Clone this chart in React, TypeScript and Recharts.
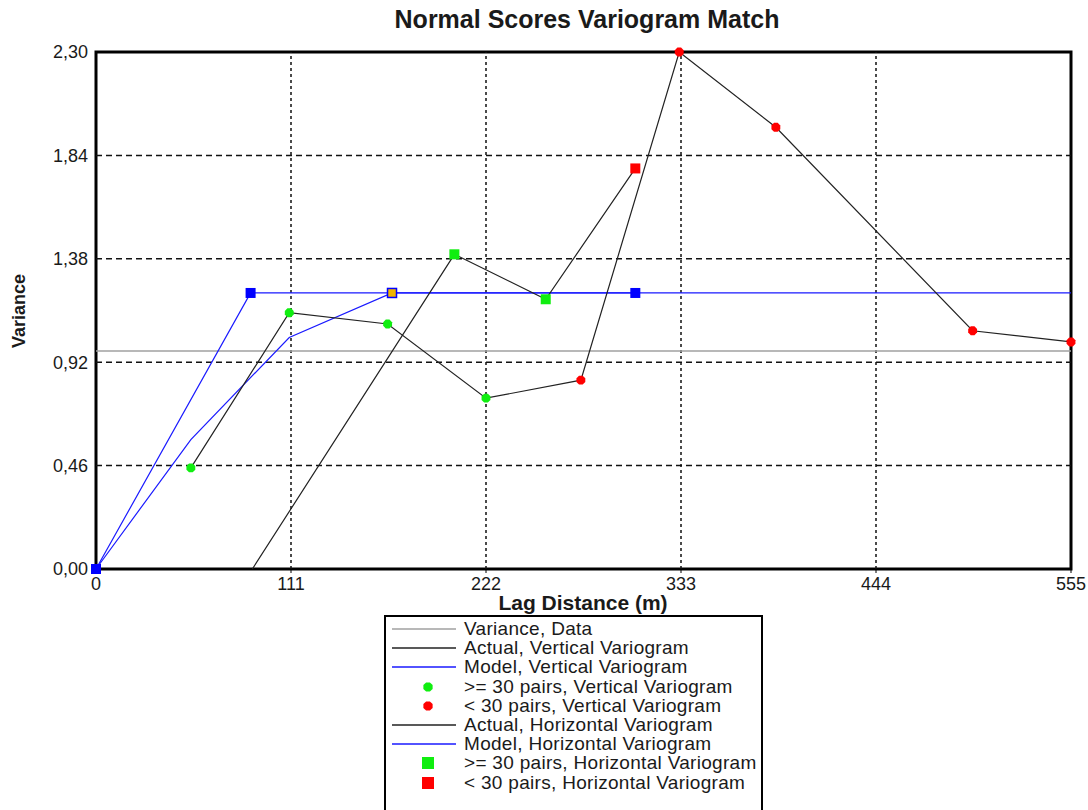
import { ComposedChart, Line, XAxis, YAxis, ReferenceLine, ReferenceArea } from "recharts";

// axis ticks
const lagTicks = [0, 111, 222, 333, 444, 555];
const varianceTicks = [0, 0.46, 0.92, 1.38, 1.84, 2.3];

// sill of the data
const dataVariance = 0.97;

// vertical variogram (experimental)
const vertLag = [54, 110, 166, 222, 276, 332, 387, 499, 555];
const vertGamma = [0.45, 1.14, 1.09, 0.76, 0.84, 2.3, 1.965, 1.06, 1.01];
const vertManyPairs = [true, true, true, true, false, false, false, false, false];

// vertical model
const vertModelLag = [0, 54, 110, 168.5, 555];
const vertModelGamma = [0, 0.576, 1.03, 1.228, 1.228];

// horizontal variogram (experimental)
const horzLag = [89, 204, 256, 307];
const horzGamma = [0, 1.4, 1.2, 1.782];
const horzMarker = ["none", "many", "many", "few"];

// horizontal model
const horzModelLag = [0, 88, 307];
const horzModelGamma = [0, 1.228, 1.228];

const zip = (xs: number[], ys: number[]) => xs.map((x, i) => ({ x, y: ys[i] }));

const vertData = zip(vertLag, vertGamma);
const vertModelData = zip(vertModelLag, vertModelGamma);
const horzData = zip(horzLag, horzGamma);
const horzModelData = zip(horzModelLag, horzModelGamma);
const varianceData = [
  { x: lagTicks[0], y: dataVariance },
  { x: lagTicks[lagTicks.length - 1], y: dataVariance },
];

const GREEN = "#10ee10";
const RED = "#ff0000";
const BLUE = "#1a1aff";
const FONT = "'Liberation Sans', Arial, sans-serif";

const Octagon = ({ cx, cy, r, fill }: any) => {
  const pts = [];
  for (let i = 0; i < 8; i++) {
    const a = (Math.PI / 8) * (2 * i + 1);
    pts.push(`${cx + r * Math.cos(a)},${cy + r * Math.sin(a)}`);
  }
  return <polygon points={pts.join(" ")} fill={fill} />;
};

const vertDot = (p: any) => (
  <g key={`vd-${p.index}`}>
    <Octagon cx={p.cx} cy={p.cy} r={4.8} fill={vertManyPairs[p.index] ? GREEN : RED} />
  </g>
);

const horzDot = (p: any) => {
  const m = horzMarker[p.index];
  if (m === "none") return <g key={`hd-${p.index}`} />;
  return (
    <rect
      key={`hd-${p.index}`}
      x={p.cx - 5}
      y={p.cy - 5}
      width={10}
      height={10}
      fill={m === "many" ? GREEN : RED}
    />
  );
};

const horzModelDot = (p: any) => (
  <rect key={`hm-${p.index}`} x={p.cx - 5} y={p.cy - 5} width={10} height={10} fill="#0000ff" />
);

const vertModelDot = (p: any) => {
  if (p.index !== 3) return <g key={`vm-${p.index}`} />;
  return (
    <rect
      key={`vm-${p.index}`}
      x={p.cx - 4.5}
      y={p.cy - 4.5}
      width={9}
      height={9}
      fill="#f0b400"
      stroke="#0000ff"
      strokeWidth={1.5}
    />
  );
};

const fmt = (v: number) => v.toFixed(2).replace(".", ",");

const legendItems = [
  { kind: "line", color: "#a0a0a0", label: "Variance, Data" },
  { kind: "line", color: "#222", label: "Actual, Vertical Variogram" },
  { kind: "line", color: BLUE, label: "Model, Vertical Variogram" },
  { kind: "dot", color: GREEN, label: ">= 30 pairs, Vertical Variogram" },
  { kind: "dot", color: RED, label: "< 30 pairs, Vertical Variogram" },
  { kind: "line", color: "#222", label: "Actual, Horizontal Variogram" },
  { kind: "line", color: BLUE, label: "Model, Horizontal Variogram" },
  { kind: "square", color: GREEN, label: ">= 30 pairs, Horizontal Variogram" },
  { kind: "square", color: RED, label: "< 30 pairs, Horizontal Variogram" },
];

const App = () => {
  return (
    <div
      style={{
        position: "absolute",
        left: 0,
        top: 0,
        width: 1088,
        height: 810,
        overflow: "hidden",
        background: "#fff",
        fontFamily: FONT,
        color: "#1a1a1a",
      }}
    >
      <div
        style={{
          position: "absolute",
          left: 287,
          width: 600,
          top: 5,
          textAlign: "center",
          fontSize: 25,
          fontWeight: "bold",
          lineHeight: "28px",
        }}
      >
        Normal Scores Variogram Match
      </div>
      <div
        style={{
          position: "absolute",
          left: 19 - 60,
          top: 311 - 10,
          width: 120,
          textAlign: "center",
          fontSize: 18,
          fontWeight: "bold",
          lineHeight: "20px",
          transform: "rotate(-90deg)",
        }}
      >
        Variance
      </div>
      <div
        style={{
          position: "absolute",
          left: 383,
          width: 400,
          top: 591,
          textAlign: "center",
          fontSize: 21,
          fontWeight: "bold",
          lineHeight: "24px",
        }}
      >
        Lag Distance (m)
      </div>

      <ComposedChart
        width={1088}
        height={810}
        margin={{ top: 52, right: 17, bottom: 211, left: 36 }}
        style={{ position: "absolute", left: 0, top: 0 }}
      >
        <XAxis
          dataKey="x"
          type="number"
          domain={[0, 555]}
          ticks={lagTicks}
          height={30}
          axisLine={false}
          tickLine={{ stroke: "#000" }}
          tickSize={4}
          tickMargin={4}
          tick={{ fontSize: 18, fill: "#1a1a1a", fontFamily: FONT }}
          interval={0}
        />
        <YAxis
          type="number"
          domain={[0, 2.3]}
          ticks={varianceTicks}
          width={60}
          axisLine={false}
          tickLine={false}
          tickSize={4}
          tickMargin={4}
          tickFormatter={fmt}
          tick={{ fontSize: 18, fill: "#1a1a1a", fontFamily: FONT }}
          interval={0}
        />
        {varianceTicks.slice(1, -1).map((v) => (
          <ReferenceLine key={`h${v}`} y={v} stroke="#111" strokeWidth={1.5} strokeDasharray="6 4" />
        ))}
        {lagTicks.slice(1, -1).map((v) => (
          <ReferenceLine key={`v${v}`} x={v} stroke="#111" strokeWidth={1.5} strokeDasharray="3 3" />
        ))}
        <ReferenceArea
          x1={0}
          x2={555}
          y1={0}
          y2={2.3}
          fill="none"
          fillOpacity={0}
          stroke="#000"
          strokeWidth={3}
        />
        <Line
          data={varianceData}
          dataKey="y"
          type="linear"
          stroke="#a0a0a0"
          strokeWidth={1.5}
          dot={false}
          isAnimationActive={false}
        />
        <Line
          data={vertModelData}
          dataKey="y"
          type="linear"
          stroke={BLUE}
          strokeWidth={1.2}
          dot={vertModelDot}
          isAnimationActive={false}
        />
        <Line
          data={horzModelData}
          dataKey="y"
          type="linear"
          stroke={BLUE}
          strokeWidth={1.2}
          dot={horzModelDot}
          isAnimationActive={false}
        />
        <Line
          data={horzData}
          dataKey="y"
          type="linear"
          stroke="#222"
          strokeWidth={1.2}
          dot={horzDot}
          isAnimationActive={false}
        />
        <Line
          data={vertData}
          dataKey="y"
          type="linear"
          stroke="#222"
          strokeWidth={1.2}
          dot={vertDot}
          isAnimationActive={false}
        />
      </ComposedChart>

      <div
        style={{
          position: "absolute",
          left: 384,
          top: 615,
          width: 375,
          height: 210,
          border: "2px solid #000",
          background: "#fff",
          paddingTop: 2,
        }}
      >
        {legendItems.map((it) => (
          <div
            key={it.label}
            style={{ display: "flex", alignItems: "center", height: 19.2, whiteSpace: "nowrap" }}
          >
            <svg width={78} height={19} style={{ flex: "none" }}>
              {it.kind === "line" && <line x1={6} x2={70} y1={10} y2={10} stroke={it.color} strokeWidth={1.5} />}
              {it.kind === "dot" && <Octagon cx={42} cy={10} r={5} fill={it.color} />}
              {it.kind === "square" && <rect x={36} y={4} width={12} height={12} fill={it.color} />}
            </svg>
            <span style={{ fontSize: 19, lineHeight: "19px", letterSpacing: 0.3 }}>{it.label}</span>
          </div>
        ))}
      </div>
    </div>
  );
};

export default App;
